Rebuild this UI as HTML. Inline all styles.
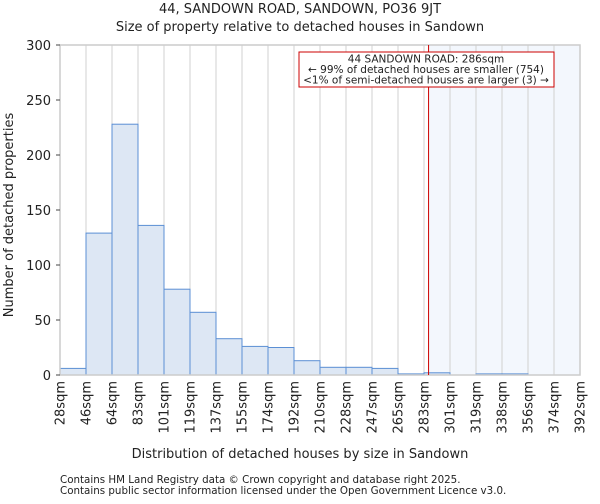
<!DOCTYPE html>
<html><head><meta charset="utf-8"><style>
body{margin:0;background:#fff;font-family:"DejaVu Sans","Liberation Sans",sans-serif;}
text{font-family:"DejaVu Sans","Liberation Sans",sans-serif;fill:#222;}
</style></head><body>
<svg id="c" width="600" height="500" xmlns="http://www.w3.org/2000/svg">
<text x="300" y="13" font-size="13" text-anchor="middle">44, SANDOWN ROAD, SANDOWN, PO36 9JT</text>
<text x="300" y="31" font-size="13" text-anchor="middle">Size of property relative to detached houses in Sandown</text>
<g id="plot"></g>
<text x="300" y="458" font-size="13" text-anchor="middle">Distribution of detached houses by size in Sandown</text>
<text transform="translate(13,215) rotate(-90)" font-size="13" text-anchor="middle">Number of detached properties</text>
<text x="60" y="483" font-size="10.3">Contains HM Land Registry data © Crown copyright and database right 2025.</text>
<text x="60" y="494" font-size="10.3">Contains public sector information licensed under the Open Government Licence v3.0.</text>
</svg>
<script>
const binLabels=["28sqm","46sqm","64sqm","83sqm","101sqm","119sqm","137sqm","155sqm","174sqm","192sqm","210sqm","228sqm","247sqm","265sqm","283sqm","301sqm","319sqm","338sqm","356sqm","374sqm","392sqm"];
const binEdges=[28,46.2,64.4,82.6,100.8,119,137.2,155.4,173.6,191.8,210,228.2,246.4,264.6,282.8,301,319.2,337.4,355.6,373.8,392];
const counts=[6,129,228,136,78,57,33,26,25,13,7,7,6,1,2,0,1,1,0,0];
const yTicks=[0,50,100,150,200,250,300];
const subjectSize=286;
const NS="http://www.w3.org/2000/svg";
const L=60,R=580,T=45,B=375;
const xs=v=>L+(v-28)/(392-28)*(R-L);
const ys=v=>B-v/300*(B-T);
const g=document.getElementById('plot');
function mk(t,a){const e=document.createElementNS(NS,t);for(const k in a)e.setAttribute(k,a[k]);g.appendChild(e);return e;}
let sh=mk('rect',{x:xs(subjectSize),y:T,width:R-xs(subjectSize),height:B-T,fill:'#eef3fc',opacity:0.7});


binEdges.forEach(v=>{const l=mk('line',{x1:xs(v),x2:xs(v),y1:T,y2:B,stroke:'#d0d0d0','stroke-width':1});

});
counts.forEach((c,i)=>{const x0=xs(binEdges[i]),x1=xs(binEdges[i+1]);
const r=mk('rect',{x:x0,y:ys(c),width:x1-x0,height:B-ys(c),fill:'#dde7f4',stroke:'#5b8fd4','stroke-width':1});

});
let fr=mk('rect',{x:L,y:T,width:R-L,height:B-T,fill:'none',stroke:'#cccccc','stroke-width':1.5});


yTicks.forEach(v=>{const t=mk('text',{x:L-9,y:ys(v)+5,'font-size':13,'text-anchor':'end'});t.textContent=v;


const tk=mk('line',{x1:L-4,x2:L,y1:ys(v),y2:ys(v),stroke:'#444'});

});
binLabels.forEach((s,i)=>{const x=xs(binEdges[i]);
const t=mk('text',{transform:`translate(${x+4.5},${B+6}) rotate(-90)`,'font-size':13,'text-anchor':'end'});t.textContent=s;

});
const ml=mk('line',{x1:xs(subjectSize),x2:xs(subjectSize),y1:T,y2:B,stroke:'#cc0000','stroke-width':1});


const bx=mk('rect',{x:299,y:52,width:255,height:35,fill:'#fff',stroke:'#cc0000','stroke-width':1});


["44 SANDOWN ROAD: 286sqm","← 99% of detached houses are smaller (754)","<1% of semi-detached houses are larger (3) →"].forEach((s,i)=>{
const t=mk('text',{x:426,y:62.5+i*10.5,'font-size':10.5,'text-anchor':'middle'});t.textContent=s;

});
</script>
</body></html>
